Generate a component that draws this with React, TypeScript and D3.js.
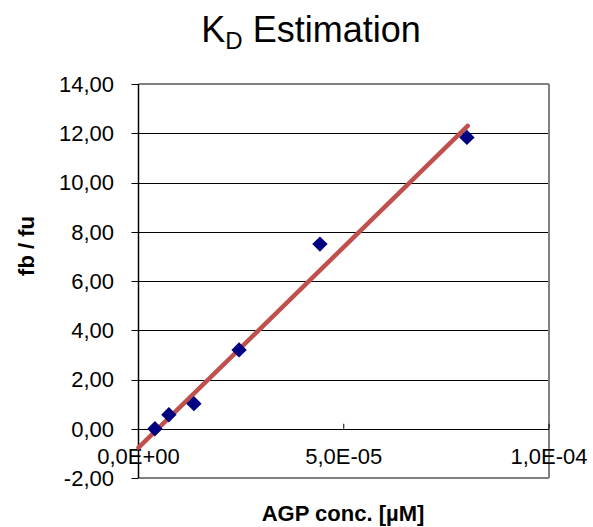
import React from "react";
import * as d3 from "d3";

const concX = [4.0e-6, 7.4e-6, 13.5e-6, 24.5e-6, 44.2e-6, 80.0e-6];
const ratioY = [0.0, 0.57, 1.02, 3.2, 7.5, 11.83];
const trendX = [0, 80.2e-6];
const trendY = [-0.77, 12.3];
const yTicks = [-2, 0, 2, 4, 6, 8, 10, 12, 14];
const xTicks = [0, 5e-5, 1e-4];
const xTickLabels = ["0,0E+00", "5,0E-05", "1,0E-04"];

const W = 593;
const H = 527;
const L = 138.5, R = 549, T = 84, B = 478;
const FONT = "'Liberation Sans', Arial, sans-serif";

export default function App() {
  const x = d3.scaleLinear().domain([0, 1e-4]).range([L, R]);
  const y = d3.scaleLinear().domain([-2, 14]).range([B, T]);
  const fmtY = (v: number) => d3.format(".2f")(v).replace(".", ",").replace("\u2212", "-");
  const line = d3.line<number>().x((_, i) => x(trendX[i])).y((d) => y(d));
  const diamond = d3.symbol().type(d3.symbolDiamond2).size(150)() as string;
  return (
    <svg width={W} height={H} style={{ position: "absolute", left: 0, top: 0 }}>
      <rect x={0} y={0} width={W} height={H} fill="#fff" />
      {yTicks.filter((v) => v > -2 && v < 14).map((v) => (
        <line key={"g" + v} x1={L} x2={R} y1={Math.round(y(v)) + 0.5} y2={Math.round(y(v)) + 0.5} stroke="#000" strokeWidth={1} />
      ))}
      <line x1={L} x2={R} y1={T} y2={T} stroke="#808080" strokeWidth={2} />
      <line x1={R} x2={R} y1={T} y2={B} stroke="#808080" strokeWidth={2} />
      <line x1={L} x2={R} y1={B} y2={B} stroke="#808080" strokeWidth={2} />
      <line x1={L} x2={L} y1={T} y2={B} stroke="#000" strokeWidth={1.5} />
      {yTicks.map((v) => (
        <g key={"y" + v}>
          <line x1={L - 7} x2={L} y1={Math.round(y(v)) + 0.5} y2={Math.round(y(v)) + 0.5} stroke="#000" strokeWidth={1} />
          <text x={114} y={y(v)} dy="0.36em" textAnchor="end" fontFamily={FONT} fontSize={22} fill="#000">
            {fmtY(v)}
          </text>
        </g>
      ))}
      <line x1={L} x2={R} y1={Math.round(y(0)) + 0.5} y2={Math.round(y(0)) + 0.5} stroke="#000" strokeWidth={1} />
      {xTicks.map((v, i) => (
        <g key={"x" + v}>
          <line x1={x(v)} x2={x(v)} y1={y(0) - 5} y2={y(0)} stroke="#000" strokeWidth={1} />
          <text x={x(v)} y={456} dy="0.36em" textAnchor="middle" fontFamily={FONT} fontSize={22} fill="#000">
            {xTickLabels[i]}
          </text>
        </g>
      ))}
      <path d={line(trendY) as string} fill="none" stroke="#C0504D" strokeWidth={4.5} strokeLinecap="round" />
      {concX.map((cx, i) => (
        <path key={"p" + i} d={diamond} transform={`translate(${x(cx)},${y(ratioY[i])})`} fill="#000080" />
      ))}
      <text x={311} y={42} textAnchor="middle" fontFamily={FONT} fontSize={36} fill="#000">
        K<tspan fontSize={24} dy={7}>D</tspan>
        <tspan dy={-7}> Estimation</tspan>
      </text>
      <text x={343} y={521} textAnchor="middle" fontFamily={FONT} fontSize={22} fontWeight="bold" fill="#000">
        AGP conc. [µM]
      </text>
      <text transform={`translate(34,${(T + B) / 2 - 35}) rotate(-90)`} textAnchor="middle" fontFamily={FONT} fontSize={22} fontWeight="bold" fill="#000">
        fb / fu
      </text>
    </svg>
  );
}
